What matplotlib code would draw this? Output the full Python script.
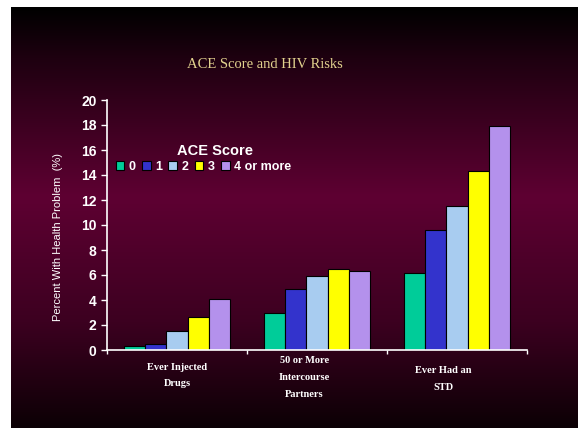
import matplotlib.pyplot as plt
import numpy as np
from matplotlib.colors import LinearSegmentedColormap

categories = ["Ever Injected\nDrugs", "50 or More\nIntercourse\nPartners", "Ever Had an\nSTD"]
scores = ["0", "1", "2", "3", "4 or more"]
score_0 = [0.3, 3.0, 6.2]
score_1 = [0.45, 4.9, 9.6]
score_2 = [1.5, 5.9, 11.5]
score_3 = [2.65, 6.5, 14.3]
score_4 = [4.05, 6.3, 17.9]
series = [score_0, score_1, score_2, score_3, score_4]
colors = ["#00CC99", "#3333CC", "#A8CCF0", "#FFFF00", "#B491EC"]

plt.rcParams["font.family"] = ["Liberation Sans", "DejaVu Sans"]

fig = plt.figure(figsize=(5.8, 4.28), dpi=100)
fig.patch.set_facecolor("white")

# gradient backdrop (slide background)
bg = fig.add_axes([11 / 580, 0, 567 / 580, 1 - 7 / 428])
cmap = LinearSegmentedColormap.from_list(
    "slide", [(0.0, "#000000"), (0.12, "#1e0010"), (0.45, "#5e0032"),
              (0.75, "#3c0020"), (1.0, "#0c0005")])
grad = np.linspace(0, 1, 256).reshape(-1, 1)
bg.imshow(grad, aspect="auto", cmap=cmap, extent=[0, 1, 0, 1], origin="upper")
bg.set_axis_off()

ax = fig.add_axes([107 / 580, 1 - 350 / 428, 420 / 580, 250 / 428])
ax.set_facecolor("none")

x = np.arange(len(categories))
w = 0.152
for i, (vals, c, lab) in enumerate(zip(series, colors, scores)):
    ax.bar(x + (i - 2) * w, vals, w, color=c, edgecolor="black", linewidth=0.8, label=lab)

ax.set_xlim(-0.5, 2.5)
ax.set_ylim(0, 20)
ax.set_yticks(range(0, 21, 2))
ax.set_xticks([-0.5, 0.5, 1.5, 2.5])
ax.set_xticklabels([])
ax.tick_params(axis="y", colors="white", length=4, width=1, labelsize=10)
ax.tick_params(axis="x", colors="white", length=3, width=1)
for t in ax.get_yticklabels():
    t.set_fontweight("bold")
for s in ["top", "right"]:
    ax.spines[s].set_visible(False)
for s in ["left", "bottom"]:
    ax.spines[s].set_color("white")
    ax.spines[s].set_linewidth(1.2)

ax.set_ylabel("Percent With Health Problem  (%)", color="white", fontsize=8)
ax.yaxis.set_label_coords(-0.105, 0.452)

# category labels under groups
label_x = [0.0, 0.91, 1.9]
label_y = [-1.0, -0.5, -1.3]
for lx, ly, txt in zip(label_x, label_y, categories):
    ax.text(lx, ly, txt, color="white", fontsize=7.5, family="Liberation Serif",
            fontweight="bold", ha="center", va="top", linespacing=2.1)

fig.text(265 / 580, 1 - 64 / 428, "ACE Score and HIV Risks", color="#E2D28E",
         fontsize=10.5, family="Liberation Serif", ha="center", va="center")

fig.text(215 / 580, 1 - 151 / 428, "ACE Score", color="white", fontsize=10.5,
         fontweight="bold", ha="center", va="center")
leg = ax.legend(ncol=5, loc="upper left",
                bbox_to_anchor=(108 / 580, 1 - 153 / 428), bbox_transform=fig.transFigure,
                frameon=False, handlelength=0.7, handleheight=0.7, handletextpad=0.35,
                columnspacing=0.5, borderpad=0.1, labelspacing=0.2,
                prop={"weight": "bold", "size": 9})
for t in leg.get_texts():
    t.set_color("white")

fig.savefig("out.png", dpi=100, facecolor="white")
